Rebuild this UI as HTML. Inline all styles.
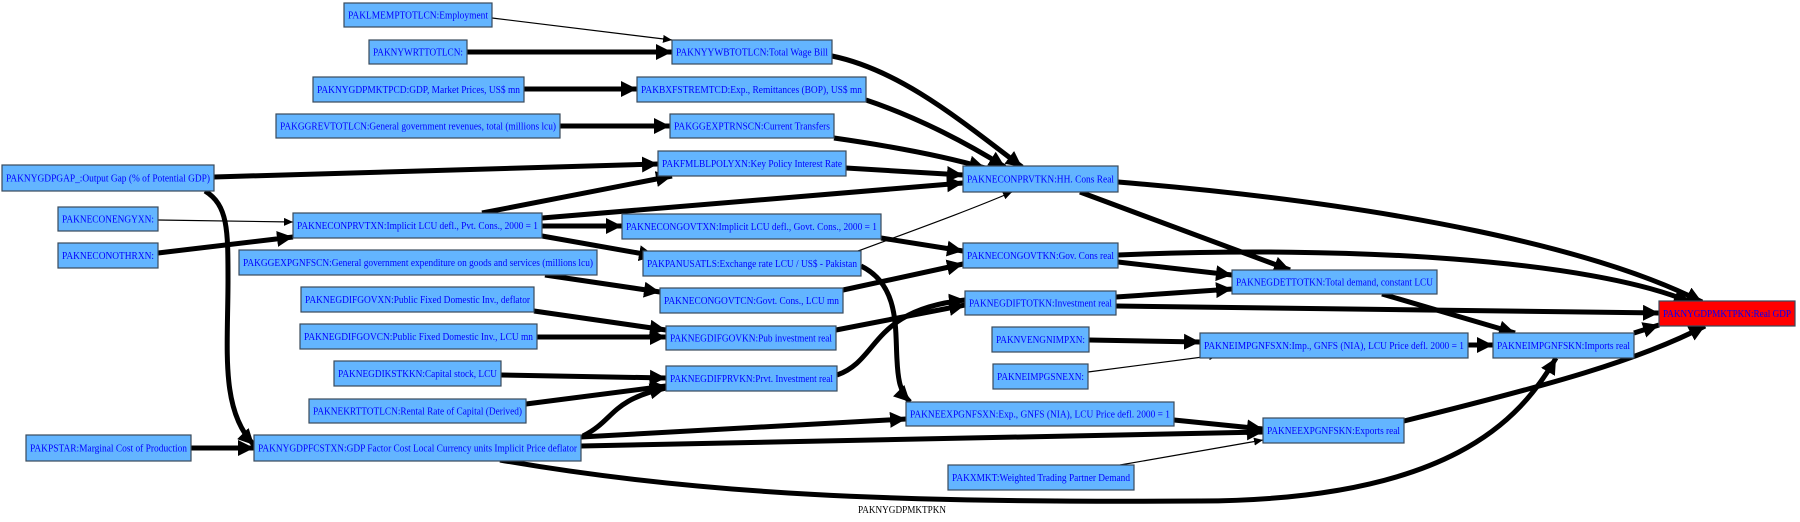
<!DOCTYPE html>
<html><head><meta charset="utf-8"><style>
html,body{margin:0;padding:0;background:#fff;}
svg{display:block;}
svg text{font-family:"Liberation Serif","DejaVu Serif",serif;font-size:10px;fill:#0000ff;}
rect{fill:#63b5ff;stroke:#3a4a5a;stroke-width:1.2;}
.e{fill:none;stroke:#000;stroke-width:5;}
.t{fill:none;stroke:#000;stroke-width:1.2;}
</style></head><body>
<svg width="1800" height="522" viewBox="0 0 1800 522" xmlns="http://www.w3.org/2000/svg" font-family="Liberation Serif, serif">
<defs>
<marker id="a" markerUnits="userSpaceOnUse" markerWidth="18" markerHeight="16" refX="16" refY="8" orient="auto"><path d="M0,0 L16,8 L0,16 z" fill="#000"/></marker>
<marker id="b" markerUnits="userSpaceOnUse" markerWidth="10" markerHeight="8" refX="9" refY="4" orient="auto"><path d="M0,0 L9,4 L0,8 z" fill="#000"/></marker>
</defs>
<path class="t" marker-end="url(#b)" d="M492,18 L672,40"/>
<path class="e" marker-end="url(#a)" d="M467,52 L672,52"/>
<path class="e" marker-end="url(#a)" d="M524,89 L637,89"/>
<path class="e" marker-end="url(#a)" d="M560,126 L670,126"/>
<path class="e" marker-end="url(#a)" d="M832,56 C900,70 960,120 1022,167"/>
<path class="e" marker-end="url(#a)" d="M866,100 C920,118 970,145 1005,167"/>
<path class="e" marker-end="url(#a)" d="M834,138 C890,146 940,155 985,168"/>
<path class="e" marker-end="url(#a)" d="M846,168 L963,175"/>
<path class="e" marker-end="url(#a)" d="M214,177 L658,164"/>
<path class="e" marker-end="url(#a)" d="M205,191 C228,205 228,230 228,280 C228,350 220,410 254,445"/>
<path class="e" marker-end="url(#a)" d="M482,213 L672,176"/>
<path class="e" marker-end="url(#a)" d="M542,218 L963,183"/>
<path class="e" marker-end="url(#a)" d="M542,226 L622,226"/>
<path class="e" marker-end="url(#a)" d="M542,236 L655,256"/>
<path class="t" marker-end="url(#b)" d="M158,220 L293,222"/>
<path class="e" marker-end="url(#a)" d="M158,253 L293,237"/>
<path class="t" marker-end="url(#b)" d="M858,251 C920,228 970,210 1012,192"/>
<path class="e" marker-end="url(#a)" d="M881,238 L963,251"/>
<path class="e" marker-end="url(#a)" d="M861,266 C900,285 895,330 897,360 C898,380 900,392 910,402"/>
<path class="e" marker-end="url(#a)" d="M545,275 L660,292"/>
<path class="e" marker-end="url(#a)" d="M843,290 L963,264"/>
<path class="e" marker-end="url(#a)" d="M1118,262 L1232,275"/>
<path class="e" marker-end="url(#a)" d="M1118,255 C1350,245 1590,260 1690,302"/>
<path class="e" marker-end="url(#a)" d="M1118,182 C1400,205 1600,250 1702,302"/>
<path class="e" marker-end="url(#a)" d="M1080,192 L1290,270"/>
<path class="e" marker-end="url(#a)" d="M534,311 L666,330"/>
<path class="e" marker-end="url(#a)" d="M537,337 L666,337"/>
<path class="e" marker-end="url(#a)" d="M836,330 L965,305"/>
<path class="e" marker-end="url(#a)" d="M501,375 L666,378"/>
<path class="e" marker-end="url(#a)" d="M526,404 L666,386"/>
<path class="e" marker-end="url(#a)" d="M837,375 C880,360 870,310 965,300"/>
<path class="e" marker-end="url(#a)" d="M1116,297 L1232,289"/>
<path class="e" marker-end="url(#a)" d="M1116,306 L1659,313"/>
<path class="e" marker-end="url(#a)" d="M1382,294 L1515,333"/>
<path class="e" marker-end="url(#a)" d="M191,448 L254,448"/>
<path class="e" marker-end="url(#a)" d="M583,436 C615,420 610,400 666,388"/>
<path class="e" marker-end="url(#a)" d="M581,437 L906,419"/>
<path class="e" marker-end="url(#a)" d="M581,446 L1263,432"/>
<path class="e" marker-end="url(#a)" d="M500,460 C700,495 900,503 1200,501 C1450,500 1520,420 1556,358"/>
<path class="e" marker-end="url(#a)" d="M1174,420 L1263,429"/>
<path class="t" marker-end="url(#b)" d="M1120,465 L1263,440"/>
<path class="e" marker-end="url(#a)" d="M1089,340 L1200,342"/>
<path class="t" marker-end="url(#b)" d="M1088,372 L1218,355"/>
<path class="e" marker-end="url(#a)" d="M1468,345 L1493,345"/>
<path class="e" marker-end="url(#a)" d="M1634,333 L1659,325"/>
<path class="e" marker-end="url(#a)" d="M1404,421 C1550,385 1640,360 1705,326"/>
<g>
<rect x="344" y="3" width="148" height="24"/><text x="348" y="18.5" textLength="140" lengthAdjust="spacingAndGlyphs">PAKLMEMPTOTLCN:Employment</text>
<rect x="369" y="40" width="98" height="24"/><text x="373" y="55.5" textLength="90" lengthAdjust="spacingAndGlyphs">PAKNYWRTTOTLCN:</text>
<rect x="672" y="40" width="160" height="24"/><text x="676" y="55.5" textLength="152" lengthAdjust="spacingAndGlyphs">PAKNYYWBTOTLCN:Total Wage Bill</text>
<rect x="313" y="77" width="211" height="25"/><text x="317" y="93" textLength="203" lengthAdjust="spacingAndGlyphs">PAKNYGDPMKTPCD:GDP, Market Prices, US$ mn</text>
<rect x="637" y="77" width="229" height="25"/><text x="641" y="93" textLength="221" lengthAdjust="spacingAndGlyphs">PAKBXFSTREMTCD:Exp., Remittances (BOP), US$ mn</text>
<rect x="276" y="114" width="284" height="24"/><text x="280" y="129.5" textLength="276" lengthAdjust="spacingAndGlyphs">PAKGGREVTOTLCN:General government revenues, total (millions lcu)</text>
<rect x="670" y="114" width="164" height="24"/><text x="674" y="129.5" textLength="156" lengthAdjust="spacingAndGlyphs">PAKGGEXPTRNSCN:Current Transfers</text>
<rect x="2" y="165" width="212" height="26"/><text x="6" y="181.5" textLength="204" lengthAdjust="spacingAndGlyphs">PAKNYGDPGAP_:Output Gap (% of Potential GDP)</text>
<rect x="658" y="151" width="188" height="25"/><text x="662" y="167" textLength="180" lengthAdjust="spacingAndGlyphs">PAKFMLBLPOLYXN:Key Policy Interest Rate</text>
<rect x="58" y="207" width="100" height="24"/><text x="62" y="222.5" textLength="92" lengthAdjust="spacingAndGlyphs">PAKNECONENGYXN:</text>
<rect x="293" y="213" width="249" height="25"/><text x="297" y="229" textLength="241" lengthAdjust="spacingAndGlyphs">PAKNECONPRVTXN:Implicit LCU defl., Pvt. Cons., 2000 = 1</text>
<rect x="622" y="214" width="259" height="25"/><text x="626" y="230" textLength="251" lengthAdjust="spacingAndGlyphs">PAKNECONGOVTXN:Implicit LCU defl., Govt. Cons., 2000 = 1</text>
<rect x="58" y="243" width="100" height="25"/><text x="62" y="259" textLength="92" lengthAdjust="spacingAndGlyphs">PAKNECONOTHRXN:</text>
<rect x="239" y="250" width="358" height="25"/><text x="243" y="266" textLength="350" lengthAdjust="spacingAndGlyphs">PAKGGEXPGNFSCN:General government expenditure on goods and services (millions lcu)</text>
<rect x="643" y="251" width="218" height="25"/><text x="647" y="267" textLength="210" lengthAdjust="spacingAndGlyphs">PAKPANUSATLS:Exchange rate LCU / US$ - Pakistan</text>
<rect x="963" y="166" width="155" height="26"/><text x="967" y="182.5" textLength="147" lengthAdjust="spacingAndGlyphs">PAKNECONPRVTKN:HH. Cons Real</text>
<rect x="963" y="243" width="155" height="25"/><text x="967" y="259" textLength="147" lengthAdjust="spacingAndGlyphs">PAKNECONGOVTKN:Gov. Cons real</text>
<rect x="660" y="288" width="183" height="25"/><text x="664" y="304" textLength="175" lengthAdjust="spacingAndGlyphs">PAKNECONGOVTCN:Govt. Cons., LCU mn</text>
<rect x="301" y="287" width="233" height="25"/><text x="305" y="303" textLength="225" lengthAdjust="spacingAndGlyphs">PAKNEGDIFGOVXN:Public Fixed Domestic Inv., deflator</text>
<rect x="300" y="324" width="237" height="25"/><text x="304" y="340" textLength="229" lengthAdjust="spacingAndGlyphs">PAKNEGDIFGOVCN:Public Fixed Domestic Inv., LCU mn</text>
<rect x="666" y="326" width="170" height="24"/><text x="670" y="341.5" textLength="162" lengthAdjust="spacingAndGlyphs">PAKNEGDIFGOVKN:Pub investment real</text>
<rect x="334" y="361" width="167" height="25"/><text x="338" y="377" textLength="159" lengthAdjust="spacingAndGlyphs">PAKNEGDIKSTKKN:Capital stock, LCU</text>
<rect x="666" y="366" width="171" height="25"/><text x="670" y="382" textLength="163" lengthAdjust="spacingAndGlyphs">PAKNEGDIFPRVKN:Prvt. Investment real</text>
<rect x="309" y="399" width="217" height="24"/><text x="313" y="414.5" textLength="209" lengthAdjust="spacingAndGlyphs">PAKNEKRTTOTLCN:Rental Rate of Capital (Derived)</text>
<rect x="26" y="435" width="165" height="26"/><text x="30" y="451.5" textLength="157" lengthAdjust="spacingAndGlyphs">PAKPSTAR:Marginal Cost of Production</text>
<rect x="254" y="435" width="327" height="26"/><text x="258" y="451.5" textLength="319" lengthAdjust="spacingAndGlyphs">PAKNYGDPFCSTXN:GDP Factor Cost Local Currency units Implicit Price deflator</text>
<rect x="1232" y="270" width="205" height="24"/><text x="1236" y="285.5" textLength="197" lengthAdjust="spacingAndGlyphs">PAKNEGDETTOTKN:Total demand, constant LCU</text>
<rect x="965" y="291" width="151" height="24"/><text x="969" y="306.5" textLength="143" lengthAdjust="spacingAndGlyphs">PAKNEGDIFTOTKN:Investment real</text>
<rect x="1659" y="301" width="136" height="25" style="fill:#ff0000"/><text x="1663" y="317" textLength="128" lengthAdjust="spacingAndGlyphs">PAKNYGDPMKTPKN:Real GDP</text>
<rect x="992" y="327" width="97" height="25"/><text x="996" y="343" textLength="89" lengthAdjust="spacingAndGlyphs">PAKNVENGNIMPXN:</text>
<rect x="1200" y="333" width="268" height="25"/><text x="1204" y="349" textLength="260" lengthAdjust="spacingAndGlyphs">PAKNEIMPGNFSXN:Imp., GNFS (NIA), LCU Price defl. 2000 = 1</text>
<rect x="1493" y="333" width="141" height="25"/><text x="1497" y="349" textLength="133" lengthAdjust="spacingAndGlyphs">PAKNEIMPGNFSKN:Imports real</text>
<rect x="993" y="364" width="95" height="25"/><text x="997" y="380" textLength="87" lengthAdjust="spacingAndGlyphs">PAKNEIMPGSNEXN:</text>
<rect x="906" y="402" width="268" height="24"/><text x="910" y="417.5" textLength="260" lengthAdjust="spacingAndGlyphs">PAKNEEXPGNFSXN:Exp., GNFS (NIA), LCU Price defl. 2000 = 1</text>
<rect x="1263" y="418" width="141" height="25"/><text x="1267" y="434" textLength="133" lengthAdjust="spacingAndGlyphs">PAKNEEXPGNFSKN:Exports real</text>
<rect x="948" y="465" width="186" height="25"/><text x="952" y="481" textLength="178" lengthAdjust="spacingAndGlyphs">PAKXMKT:Weighted Trading Partner Demand</text>
</g>
<text x="858" y="513" textLength="88" lengthAdjust="spacingAndGlyphs" style="fill:#000">PAKNYGDPMKTPKN</text>
</svg>
</body></html>
